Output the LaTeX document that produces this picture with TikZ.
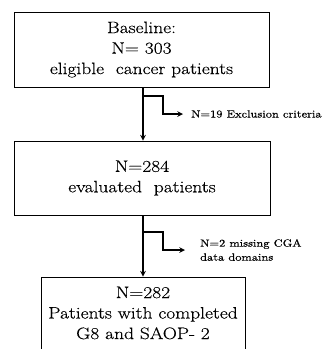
\documentclass[tikz,border=0pt]{standalone}
\usepackage{fontspec}
\newfontfamily\wideserif{Latin Modern Roman}[FakeStretch=1.18, FakeBold=0.3]
\usetikzlibrary{calc}
\begin{document}
\begin{tikzpicture}[x=1pt, y=-1pt, line join=miter, >=stealth,
	box/.style={draw, line width=0.9pt, align=center, inner sep=0pt},
	boxtext/.style={font=\wideserif\fontsize{16.5}{20.5}\selectfont},
	note/.style={anchor=west, align=left, inner sep=0pt, font=\wideserif\fontsize{10.5}{14}\selectfont},
	flow/.style={line width=1.5pt}]
	\useasboundingbox (0,0) rectangle (322,349);
	\clip (0,0) rectangle (322,349);
	\node[box, boxtext, minimum width=255pt, minimum height=75pt] (base) at (141.5,49.5)
		{Baseline:\\ N= 303\\ eligible\ \ cancer patients};
	\node[box, boxtext, minimum width=256pt, minimum height=74pt] (eval) at (142,178)
		{N=284\\ evaluated\ \ patients};
	\node[box, minimum width=204pt, minimum height=95pt] (done) at (143,324.5) {};
	\node[boxtext, align=center, inner sep=0pt] (donetxt) at (143,313)
		{N=282\\ Patients with completed\\ G8 and SAOP- 2};
	\coordinate (s1) at (143,96);
	\coordinate (k1) at (163,114);
	\coordinate (s2) at (143,232);
	\coordinate (k2) at (163,250);
	\node[note] (excl) at (191,114) {N=19 Exclusion criteria};
	\node[note] (miss) at (200,250) {N=2 missing CGA\\ data domains};
	\draw[flow, ->] (base.south -| s1) -- (eval.north -| s1);
	\draw[flow, ->] (eval.south -| s2) -- (done.north -| s2);
	\draw[flow, ->] (s1) -| (k1) -- ($(excl.west)+(-8,0)$);
	\draw[flow, ->] (s2) -| (k2) -- ($(miss.west)+(-15,0)$);
\end{tikzpicture}
\end{document}
